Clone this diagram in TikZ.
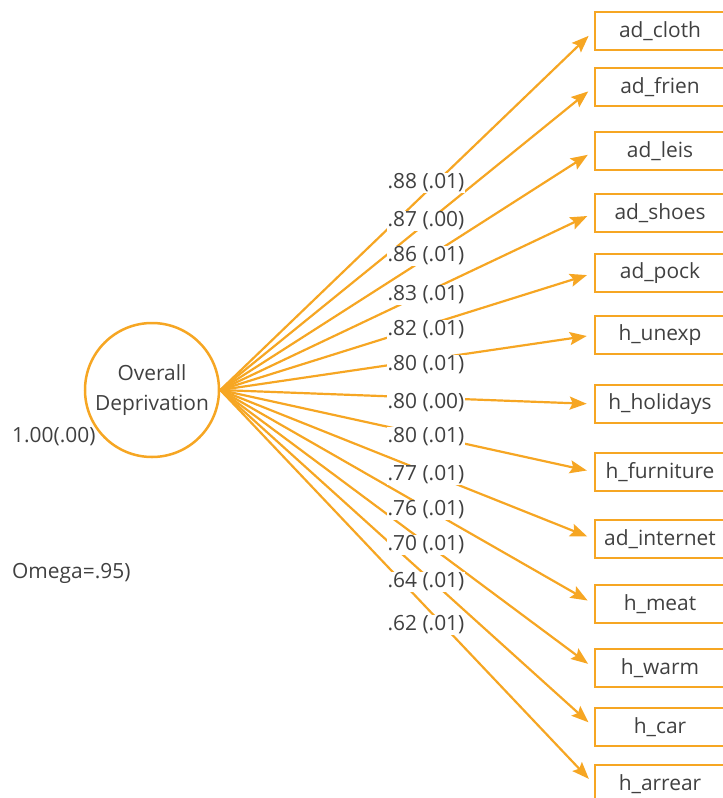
\documentclass[tikz,border=0pt]{standalone}
\usepackage{fontspec}
\setmainfont{Open Sans}
\usetikzlibrary{arrows.meta}
\definecolor{pathorange}{RGB}{246,166,35}
\definecolor{textgray}{RGB}{64,64,64}
\tikzset{
  factor/.style    = {circle, draw=pathorange, line width=2.5bp, minimum size=134bp,
                      inner sep=0pt, align=center, text=textgray},
  indicator/.style = {draw=pathorange, line width=2.6bp, minimum width=130bp,
                      minimum height=38bp, inner sep=0pt, text=textgray},
  loading/.style   = {draw=pathorange, line width=2.2bp,
                      -{Stealth[length=17bp,width=13bp,inset=3bp]}, shorten >=7bp},
  loadlabel/.style = {fill=white, inner sep=1bp, text=textgray},
  note/.style      = {anchor=west, inner sep=0pt, text=textgray}
}

\begin{document}
\begin{tikzpicture}[x=1bp,y=-1bp,font=\fontsize{21}{30}\selectfont]
  \useasboundingbox (0,0) rectangle (723,798);

  % latent factor
  \node[factor] (od) at (152,390) {Overall\\Deprivation};
  \node[note] (var) at (12,437) {1.00(.00)};
  \node[note] (omega) at (12,573) {Omega=.95)};

  % observed items
  \foreach \name/\y [count=\i] in {ad\_cloth/31, ad\_frien/87, ad\_leis/151,
      ad\_shoes/213, ad\_pock/273, h\_unexp/335, h\_holidays/404,
      h\_furniture/472, ad\_internet/539, h\_meat/604, h\_warm/668,
      h\_car/727, h\_arrear/784}
    \node[indicator] (item\i) at (660,\y) {\name};

  % paths from the factor
  \foreach \i in {1,...,13}
    \draw[loading] (od.east) -- (item\i.west);

  % standardised loadings (s.e.)
  \foreach \est/\y [count=\i] in {.88 (.01)/183, .87 (.00)/221, .86 (.01)/256,
      .83 (.01)/295, .82 (.01)/330, .80 (.01)/365, .80 (.00)/403,
      .80 (.01)/437, .77 (.01)/475, .76 (.01)/510, .70 (.01)/545,
      .64 (.01)/582, .62 (.01)/625}
    \node[loadlabel] (est\i) at (426,\y) {\est};
\end{tikzpicture}
\end{document}
